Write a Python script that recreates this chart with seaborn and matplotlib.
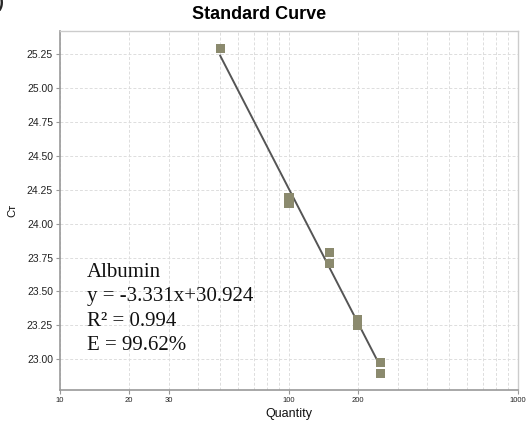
import numpy as np
import pandas as pd
import matplotlib
matplotlib.use("Agg")
import matplotlib.pyplot as plt
import seaborn as sns
from matplotlib.ticker import FixedLocator, NullFormatter, LogLocator

sns.set_style("white")
plt.rcParams['font.family'] = ['Liberation Sans', 'DejaVu Sans']

# ---- data ----
quantity = [50, 100, 100, 150, 150, 200, 200, 250, 250]
ct_values = [25.29, 24.19, 24.15, 23.79, 23.71, 23.29, 23.25, 22.98, 22.895]
x_tick_values = [10, 20, 30, 100, 200, 1000]
x_tick_labels = ["10", "20", "30", "100", "200", "1000"]
y_tick_values = [23.00, 23.25, 23.50, 23.75, 24.00, 24.25, 24.50, 24.75, 25.00, 25.25]
annotation_lines = ["Albumin", "y = -3.331x+30.924", "R\u00b2 = 0.994", "E = 99.62%"]

df = pd.DataFrame({"Quantity": quantity, "Ct": ct_values})

fig = plt.figure(figsize=(5.26, 4.24), dpi=100)
ax = fig.add_axes([60/526, 1-390/424, (518-60)/526, (390-31)/424])

sns.regplot(data=df, x="Quantity", y="Ct", logx=True, ci=None, ax=ax,
            marker="s",
            scatter_kws=dict(s=42, color="#8b8a6e", edgecolor="none", alpha=1, zorder=3),
            line_kws=dict(color="#555555", lw=1.4, zorder=2))

ax.set_xscale("log")
ax.set_xlim(10, 1000)
ax.set_ylim(22.774, 25.42)

# grid: vertical at every integer multiple, horizontal at y ticks
ax.xaxis.set_major_locator(FixedLocator(x_tick_values))
ax.set_xticklabels(x_tick_labels)
ax.xaxis.set_minor_locator(LogLocator(base=10, subs=np.arange(1, 10)))
ax.xaxis.set_minor_formatter(NullFormatter())
ax.set_yticks(y_tick_values)
ax.set_yticklabels([f"{v:.2f}" for v in y_tick_values])
ax.grid(True, which="both", axis="x", color="#dddddd", ls=(0, (3, 2)), lw=0.7)
ax.grid(True, which="major", axis="y", color="#dddddd", ls=(0, (3, 2)), lw=0.7)
ax.set_axisbelow(True)

ax.tick_params(axis="x", which="major", labelsize=5.5, length=3, width=0.8,
               color="#999999", pad=2, labelcolor="#222222", bottom=True)
ax.tick_params(axis="x", which="minor", length=0, bottom=False)
ax.tick_params(axis="y", which="major", labelsize=7.5, length=3, width=0.8,
               color="#999999", pad=2, labelcolor="#222222", left=True)

for side in ["left", "bottom"]:
    ax.spines[side].set_color("#999999")
    ax.spines[side].set_linewidth(1.2)
for side in ["top", "right"]:
    ax.spines[side].set_color("#cccccc")
    ax.spines[side].set_linewidth(1.0)

ax.set_xlabel("Quantity", fontsize=9, color="#111111", labelpad=3)
ax.set_ylabel("C\u0442", fontsize=8, color="#111111", labelpad=7)

fig.suptitle("Standard Curve", x=0.493, y=0.985, fontsize=13, fontweight="bold",
             color="black")

baselines = [277, 301, 326, 350]
for txt, by in zip(annotation_lines, baselines):
    fig.text(87/526, 1 - by/424, txt, fontsize=15, va="baseline", ha="left",
             family=["Liberation Serif", "DejaVu Serif"], color="#111111")

fig.text(-0.006, 1.015, ")", fontsize=13, fontweight="bold", va="top", ha="left")

fig.savefig("out.png", dpi=100)
